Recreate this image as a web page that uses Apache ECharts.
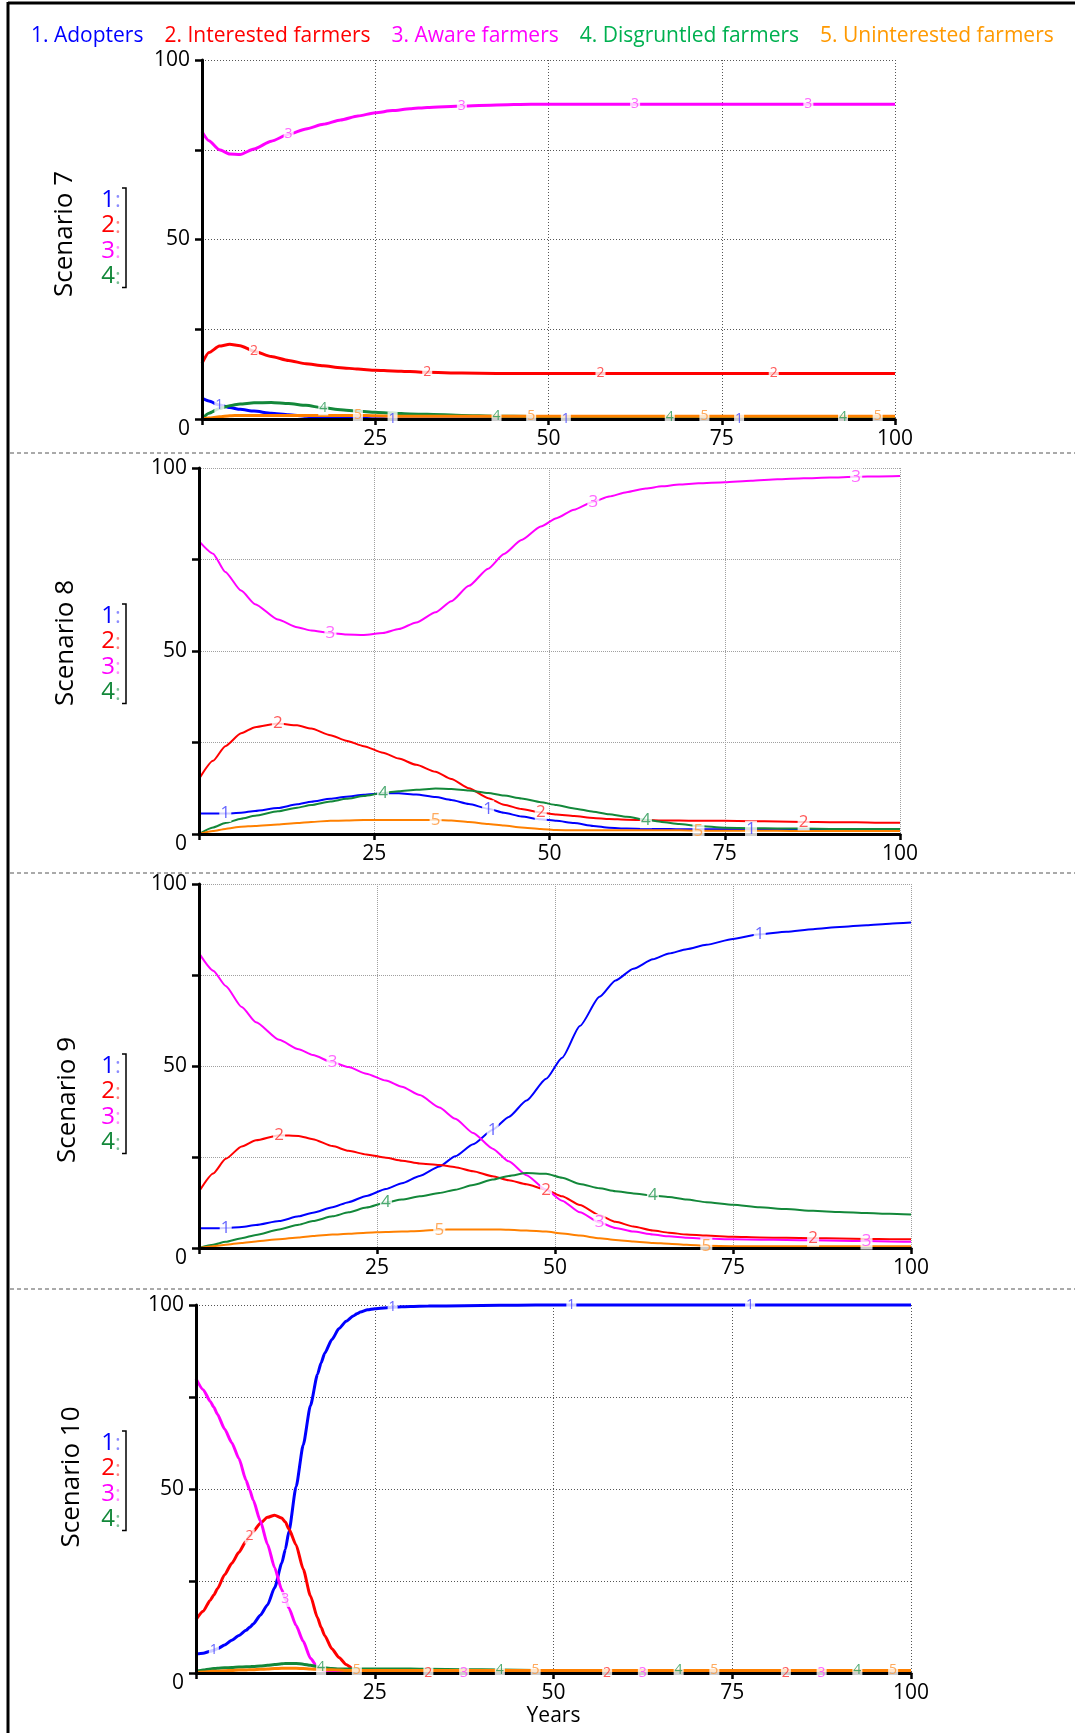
<!DOCTYPE html>
<html>
<head>
<meta charset="utf-8">
<script src="https://cdn.jsdelivr.net/npm/echarts@6/dist/echarts.min.js"></script>
<style>
  html, body { margin: 0; padding: 0; background: #fff; }
  #chart { width: 1075px; height: 1733px; }
</style>
</head>
<body>
<div id="chart"></div>
<script>
// series names shown in the legend, one per stock
const seriesNames = ['1. Adopters', '2. Interested farmers', '3. Aware farmers', '4. Disgruntled farmers', '5. Uninterested farmers'];
const xTicks = [0, 25, 50, 75, 100];

// Scenario 7
const years7 = [0, 1, 2.5, 4, 5.5, 7.5, 10, 12.5, 15, 17.5, 20, 22.5, 25, 27.5, 30, 32.5, 37.5, 42.5, 47.5, 52.5, 57.5, 62.5, 67.5, 72.5, 77.5, 82.5, 87.5, 92.5, 97.5, 100];
const adopters7 = [5.8, 5.0, 3.9, 3.2, 2.7, 2.2, 1.6, 1.2, 0.8, 0.5, 0.3, 0.2, 0.1, 0, 0, 0, 0, 0, 0, 0, 0, 0, 0, 0, 0, 0, 0, 0, 0, 0];
const interested7 = [15.5, 18.5, 20.3, 20.8, 20.4, 18.9, 17.4, 16.3, 15.4, 14.8, 14.3, 13.9, 13.6, 13.4, 13.2, 13.0, 12.8, 12.7, 12.7, 12.7, 12.7, 12.7, 12.7, 12.7, 12.7, 12.7, 12.7, 12.7, 12.7, 12.7];
const aware7 = [80, 77.5, 75.0, 73.8, 73.7, 75.2, 77.4, 79.3, 80.8, 82.1, 83.3, 84.4, 85.3, 85.9, 86.4, 86.8, 87.2, 87.5, 87.7, 87.7, 87.7, 87.7, 87.7, 87.7, 87.7, 87.7, 87.7, 87.7, 87.7, 87.7];
const disgruntled7 = [0, 1.6, 2.9, 3.7, 4.2, 4.5, 4.6, 4.3, 3.8, 3.1, 2.6, 2.2, 1.9, 1.6, 1.4, 1.3, 1.0, 0.8, 0.7, 0.6, 0.5, 0.5, 0.5, 0.5, 0.5, 0.5, 0.5, 0.5, 0.5, 0.5];
const uninterested7 = [0, 0.3, 0.6, 0.9, 1.0, 1.0, 1.0, 1.0, 1.0, 1.0, 1.0, 1.0, 0.9, 0.8, 0.8, 0.8, 0.8, 0.8, 0.8, 0.8, 0.8, 0.8, 0.8, 0.8, 0.8, 0.8, 0.8, 0.8, 0.8, 0.8];

// Scenario 8
const years8 = [0, 2, 3.75, 6, 8, 11.25, 14, 16, 18.75, 21, 23.5, 26.25, 28.5, 31, 33.75, 36, 38.5, 41.25, 43.5, 46, 48.75, 51, 53.5, 56.25, 58.5, 61, 63.75, 66, 68.5, 71.25, 75, 78.75, 82.5, 86.25, 90, 93.75, 97, 100];
const adopters8 = [5.6, 5.6, 5.6, 5.8, 6.3, 7.1, 8.1, 8.8, 9.6, 10.2, 10.7, 11.1, 11.1, 10.8, 10.1, 9.3, 8.2, 6.9, 5.8, 4.8, 4.0, 3.6, 3.0, 2.2, 1.7, 1.5, 1.4, 1.4, 1.3, 1.3, 1.3, 1.3, 1.2, 1.2, 1.1, 1.1, 1.0, 1.0];
const interested8 = [15.0, 20.0, 24.0, 27.5, 29.2, 30.2, 29.7, 28.8, 27.0, 25.5, 24.0, 22.2, 20.6, 18.9, 17.0, 15.0, 12.5, 9.8, 8.0, 6.8, 5.9, 5.3, 4.9, 4.4, 4.1, 3.9, 3.8, 3.7, 3.7, 3.6, 3.6, 3.5, 3.4, 3.3, 3.2, 3.2, 3.1, 3.1];
const aware8 = [80, 76.6, 71.6, 66.5, 62.8, 58.6, 56.5, 55.6, 54.9, 54.5, 54.4, 54.9, 56.0, 57.8, 60.6, 63.6, 67.8, 72.5, 76.5, 80.3, 84.0, 86.3, 88.6, 90.8, 92.2, 93.4, 94.4, 95.0, 95.5, 95.8, 96.1, 96.5, 96.9, 97.2, 97.4, 97.6, 97.7, 97.8];
const disgruntled8 = [0, 1.8, 3.0, 4.2, 5.0, 6.2, 7.2, 7.9, 8.9, 9.6, 10.4, 11.2, 11.7, 12.1, 12.4, 12.3, 11.9, 11.2, 10.5, 9.7, 8.7, 7.9, 7.0, 6.1, 5.4, 4.7, 3.9, 3.3, 2.7, 2.2, 1.7, 1.6, 1.5, 1.5, 1.4, 1.4, 1.4, 1.4];
const uninterested8 = [0, 0.8, 1.4, 2.0, 2.2, 2.6, 3.0, 3.3, 3.6, 3.7, 3.8, 3.8, 3.8, 3.8, 3.8, 3.7, 3.3, 2.7, 2.3, 1.8, 1.4, 1.1, 1.0, 1.0, 1.0, 1.0, 1.0, 1.0, 1.0, 0.9, 0.9, 0.9, 0.9, 0.8, 0.8, 0.8, 0.8, 0.8];

// Scenario 9
const years9 = [0, 2, 3.75, 6, 8, 11.25, 14, 16, 18.75, 21, 23.5, 26.25, 28.5, 31, 33.75, 36, 38.5, 41.25, 43.5, 46, 48.75, 51, 53.5, 56.25, 58.5, 61, 63.75, 66, 68.5, 71.25, 75, 78.75, 82.5, 86.25, 90, 93.75, 97, 100];
const adopters9 = [5.4, 5.4, 5.5, 5.8, 6.3, 7.4, 8.7, 9.7, 11.2, 12.6, 14.3, 16.2, 17.8, 19.8, 22.4, 25.2, 28.5, 32.5, 36.0, 40.5, 46.5, 52.3, 61.0, 69.0, 73.5, 76.7, 79.3, 80.9, 82.1, 83.3, 84.9, 86.2, 86.9, 87.6, 88.2, 88.7, 89.1, 89.4];
const interested9 = [15.5, 20.5, 24.5, 27.9, 29.6, 31.0, 30.8, 29.9, 28.0, 26.7, 25.7, 24.8, 24.0, 23.2, 22.8, 22.2, 21.1, 19.7, 18.6, 17.5, 16.0, 14.2, 11.8, 9.0, 7.2, 5.9, 4.8, 4.2, 3.7, 3.4, 3.1, 2.9, 2.8, 2.7, 2.6, 2.5, 2.4, 2.4];
const aware9 = [81.0, 76.2, 72.0, 66.2, 62.0, 57.2, 54.6, 53.0, 51.0, 49.7, 47.9, 46.0, 44.3, 42.0, 38.6, 35.5, 31.6, 27.3, 23.8, 20.0, 16.0, 13.0, 9.8, 7.0, 5.5, 4.5, 3.7, 3.2, 2.8, 2.6, 2.4, 2.3, 2.2, 2.1, 2.0, 1.9, 1.8, 1.7];
const disgruntled9 = [0, 0.9, 1.7, 2.7, 3.6, 5.1, 6.4, 7.4, 8.7, 9.8, 11.1, 12.5, 13.3, 14.2, 15.1, 16.0, 17.3, 18.8, 19.8, 20.6, 20.4, 19.3, 17.6, 16.4, 15.6, 15.0, 14.4, 14.0, 13.3, 12.6, 11.9, 11.2, 10.7, 10.2, 9.9, 9.6, 9.4, 9.2];
const uninterested9 = [0, 0.5, 0.9, 1.4, 1.8, 2.4, 2.9, 3.3, 3.7, 3.9, 4.2, 4.4, 4.5, 4.7, 5.0, 5.1, 5.1, 5.1, 5.0, 4.8, 4.5, 4.0, 3.4, 2.7, 2.2, 1.8, 1.4, 1.2, 0.9, 0.6, 0.5, 0.5, 0.5, 0.5, 0.5, 0.5, 0.5, 0.5];

// Scenario 10
const years10 = [0, 1, 2, 2.5, 3, 4, 5, 6, 7, 7.5, 8, 9, 10, 11, 12, 12.5, 13, 14, 15, 16, 17, 17.5, 18, 19, 20, 21, 22, 22.5, 23, 24, 25, 27.5, 30, 32.5, 37.5, 42.5, 47.5, 52.5, 57.5, 62.5, 67.5, 72.5, 77.5, 82.5, 87.5, 92.5, 97.5, 100];
const adopters10 = [5.2, 5.4, 5.9, 6.2, 6.6, 7.6, 8.9, 10.2, 11.6, 12.4, 13.3, 15.7, 18.5, 23.2, 29.9, 33.6, 38.5, 50.6, 62.0, 72.6, 81.2, 84.3, 86.9, 90.6, 93.6, 95.6, 97.0, 97.6, 98.1, 98.7, 99.0, 99.4, 99.6, 99.7, 99.8, 99.9, 100, 100, 100, 100, 100, 100, 100, 100, 100, 100, 100, 100];
const interested10 = [14.5, 16.8, 19.8, 21.2, 22.9, 26.7, 29.8, 32.8, 35.8, 37.2, 38.5, 40.7, 42.3, 42.9, 42.1, 41.0, 39.1, 34.8, 28.2, 21.0, 15.0, 12.4, 10.2, 6.6, 4.2, 2.3, 1.1, 0.7, 0.5, 0.3, 0.2, 0, 0, 0, 0, 0, 0, 0, 0, 0, 0, 0, 0, 0, 0, 0, 0, 0];
const aware10 = [80, 77.0, 73.8, 72.2, 70.3, 66.3, 62.6, 58.3, 52.4, 49.8, 47.0, 41.3, 35.0, 28.6, 22.6, 20.0, 17.6, 12.9, 8.6, 4.0, 1.6, 1.0, 0.6, 0.3, 0.2, 0.1, 0.1, 0, 0, 0, 0, 0, 0, 0, 0, 0, 0, 0, 0, 0, 0, 0, 0, 0, 0, 0, 0, 0];
const disgruntled10 = [0.4, 0.8, 1.1, 1.2, 1.3, 1.4, 1.5, 1.6, 1.7, 1.7, 1.8, 1.9, 2.1, 2.3, 2.5, 2.6, 2.6, 2.6, 2.4, 2.1, 1.7, 1.5, 1.4, 1.2, 1.1, 1.1, 1.1, 1.1, 1.1, 1.1, 1.1, 1.1, 1.1, 1.0, 0.9, 0.8, 0.7, 0.7, 0.7, 0.7, 0.7, 0.7, 0.7, 0.7, 0.7, 0.7, 0.7, 0.7];
const uninterested10 = [0.2, 0.3, 0.4, 0.5, 0.5, 0.6, 0.7, 0.8, 0.8, 0.9, 0.9, 1.0, 1.1, 1.2, 1.3, 1.3, 1.3, 1.3, 1.2, 1.1, 1.0, 1.0, 0.9, 0.9, 0.8, 0.7, 0.7, 0.7, 0.7, 0.7, 0.7, 0.7, 0.7, 0.7, 0.7, 0.7, 0.7, 0.7, 0.7, 0.7, 0.7, 0.7, 0.7, 0.7, 0.7, 0.7, 0.7, 0.7];

const lineColors = ['#0000ff', '#ff0000', '#ff00ff', '#13883a', '#ff8000'];
const tagColors = ['#4040ff', '#ff3030', '#ff40ff', '#239650', '#ff9535'];
const legendColors = ['#0000ff', '#ff0000', '#ff00ff', '#00b050', '#ff9900'];
const FONT = 'Open Sans';

const panels = [
  { title: 'Scenario 7', years: years7, values: [adopters7, interested7, aware7, disgruntled7, uninterested7],
    grid: { left: 202, top: 60, width: 693, height: 359 }, lw: 3, tagStart: 2.5, tagStep: 5, tagFont: 14, tagBox: [10, 15],
    gridColor: '#555', gridDash: [1, 2], titlePos: [65, 234], keyTop: 200 },
  { title: 'Scenario 8', years: years8, values: [adopters8, interested8, aware8, disgruntled8, uninterested8],
    grid: { left: 199, top: 468, width: 701, height: 366 }, lw: 2, tagStart: 3.75, tagStep: 7.5, tagFont: 17, tagBox: [12, 17],
    gridColor: '#a0a0a0', gridDash: [1, 1], titlePos: [66, 643], keyTop: 616 },
  { title: 'Scenario 9', years: years9, values: [adopters9, interested9, aware9, disgruntled9, uninterested9],
    grid: { left: 199, top: 884, width: 712, height: 364 }, lw: 2, tagStart: 3.75, tagStep: 7.5, tagFont: 17, tagBox: [12, 17],
    gridColor: '#a0a0a0', gridDash: [1, 1], titlePos: [68, 1100], keyTop: 1066 },
  { title: 'Scenario 10', years: years10, values: [adopters10, interested10, aware10, disgruntled10, uninterested10],
    grid: { left: 196, top: 1305, width: 715, height: 368 }, lw: 3, tagStart: 2.5, tagStep: 5, tagFont: 14, tagBox: [10, 15],
    gridColor: '#555', gridDash: [1, 2], titlePos: [72, 1477], keyTop: 1443, xName: 'Years' }
];

// Stella puts the series number on each curve, cycling through the series
function isTagYear(p, k, t) {
  const cycle = p.tagStep * 5;
  const d = t - p.tagStart - k * p.tagStep;
  if (d < -1e-6) return false;
  const r = d % cycle;
  return r < 1e-6 || cycle - r < 1e-6;
}

const chart = echarts.init(document.getElementById('chart'));

const grids = [], xAxes = [], yAxes = [], series = [], graphics = [];

panels.forEach((p, i) => {
  grids.push(p.grid);

  // main axes (drawn above the curves, like the original)
  xAxes.push({
    type: 'value', gridIndex: i, min: 0, max: 100, interval: 25, z: 3,
    name: p.xName || '', nameLocation: 'middle', nameGap: 33,
    nameTextStyle: { fontSize: 21, fontFamily: FONT, color: '#000' },
    axisLine: { lineStyle: { color: '#000', width: 3 } },
    axisTick: { length: 6, lineStyle: { color: '#000', width: 2.5 } },
    axisLabel: { formatter: v => (v === 0 ? '' : String(v)), fontSize: 21, fontFamily: FONT, color: '#000', margin: 10 },
    splitLine: { show: false }
  });
  // grid lines only, under the curves
  xAxes.push({
    type: 'value', gridIndex: i, min: 0, max: 100, interval: 25, z: 0, position: 'bottom',
    axisLine: { show: false }, axisTick: { show: false }, axisLabel: { show: false },
    splitLine: { show: true, lineStyle: { color: p.gridColor, type: p.gridDash, width: 1 } }
  });
  yAxes.push({
    type: 'value', gridIndex: i, min: 0, max: 100, interval: 25, z: 3,
    axisLine: { show: true, lineStyle: { color: '#000', width: 3 } },
    axisTick: { show: true, length: 7, lineStyle: { color: '#000', width: 2.5 } },
    axisLabel: {
      formatter: v => (v === 0 ? '{low|0}' : (v % 50 === 0 ? String(v) : '')),
      fontSize: 21, fontFamily: FONT, color: '#000', margin: 12,
      rich: { low: { fontSize: 21, fontFamily: FONT, color: '#000', padding: [20, 0, 0, 0] } }
    },
    splitLine: { show: false }
  });
  yAxes.push({
    type: 'value', gridIndex: i, min: 0, max: 100, interval: 25, z: 0, position: 'left',
    axisLine: { show: false }, axisTick: { show: false }, axisLabel: { show: false },
    splitLine: { show: true, lineStyle: { color: p.gridColor, type: p.gridDash, width: 1 } }
  });

  p.values.forEach((vals, k) => {
    const pts = p.years.map((t, j) => [t, vals[j]]);
    series.push({
      name: seriesNames[k], type: 'line', xAxisIndex: 2 * i, yAxisIndex: 2 * i,
      data: pts, symbol: 'none', smooth: 0.2, smoothMonotone: 'x', clip: false,
      lineStyle: { color: lineColors[k], width: p.lw }, itemStyle: { color: lineColors[k] },
      z: 2, silent: true, animation: false
    });
    series.push({
      name: seriesNames[k], type: 'scatter', xAxisIndex: 2 * i, yAxisIndex: 2 * i,
      data: pts.filter(pt => isTagYear(p, k, pt[0])),
      symbol: 'rect', symbolSize: p.tagBox, clip: false,
      itemStyle: { color: '#fff' },
      label: { show: true, position: 'inside', formatter: String(k + 1), color: tagColors[k], fontSize: p.tagFont, fontFamily: FONT },
      z: 4, silent: true, animation: false
    });
  });

  // rotated scenario title
  graphics.push({
    type: 'text', x: p.titlePos[0], y: p.titlePos[1], rotation: Math.PI / 2,
    style: { text: p.title, fontSize: 26, fontFamily: FONT, fill: '#000', align: 'center', verticalAlign: 'middle' }
  });
  // "1: 2: 3: 4:" key with bracket
  for (let k = 0; k < 4; k++) {
    const y = p.keyTop + k * 25.5;
    graphics.push({ type: 'text', x: 115, y: y, style: { text: String(k + 1), fontSize: 24, fontFamily: FONT, fill: lineColors[k], align: 'right', verticalAlign: 'middle' } });
    graphics.push({ type: 'text', x: 115, y: y + 1, style: { text: ':', fontSize: 22, fontFamily: FONT, fill: tagColors[k], opacity: 0.6, align: 'left', verticalAlign: 'middle' } });
  }
  const bTop = p.keyTop - 12, bBot = p.keyTop + 3 * 25.5 + 11;
  graphics.push({
    type: 'polyline',
    shape: { points: [[122, bTop], [126, bTop], [126, bBot], [122, bBot]] },
    style: { stroke: '#000', lineWidth: 1.5, fill: null }
  });
});

// frame and dashed separators between scenarios
graphics.push({ type: 'line', shape: { x1: 8, y1: 2, x2: 8, y2: 1733 }, style: { stroke: '#000', lineWidth: 3 } });
graphics.push({ type: 'line', shape: { x1: 8, y1: 3, x2: 1075, y2: 3 }, style: { stroke: '#000', lineWidth: 3 } });
[453, 873, 1289].forEach(y => {
  graphics.push({ type: 'line', shape: { x1: 10, y1: y, x2: 1075, y2: y }, style: { stroke: '#555', lineWidth: 1, lineDash: [4, 3] } });
});

const option = {
  backgroundColor: '#fff',
  animation: false,
  legend: {
    left: 20, top: 21, itemWidth: 0, itemHeight: 0, itemGap: 15, selectedMode: false,
    textStyle: { fontSize: 21, fontFamily: FONT },
    data: seriesNames.map((n, k) => ({ name: n, textStyle: { color: legendColors[k] } }))
  },
  grid: grids,
  xAxis: xAxes,
  yAxis: yAxes,
  series: series,
  graphic: graphics
};

chart.setOption(option);
</script>
</body>
</html>
